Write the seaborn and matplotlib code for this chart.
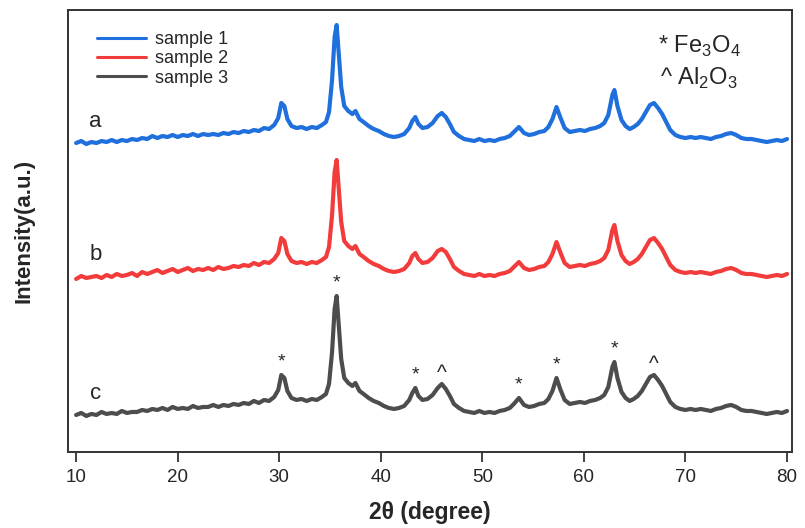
import numpy as np
import pandas as pd
import matplotlib
matplotlib.use("Agg")
import matplotlib.pyplot as plt
import seaborn as sns

# ── data (stacked intensities in a.u.) ───────────────────────────────────────
two_theta = [10.0, 10.5, 11.0, 11.5, 12.0, 12.5, 13.0, 13.5, 14.0, 14.5,
             15.0, 15.5, 16.0, 16.5, 17.0, 17.5, 18.0, 18.5, 19.0, 19.5,
             20.0, 20.5, 21.0, 21.5, 22.0, 22.5, 23.0, 23.5, 24.0, 24.5,
             25.0, 25.5, 26.0, 26.5, 27.0, 27.5, 28.0, 28.5, 29.0, 29.5,
             29.9, 30.2, 30.5, 30.8, 31.2, 31.7, 32.2, 32.7, 33.2, 33.7,
             34.2, 34.6, 34.9, 35.2, 35.45, 35.65, 35.85, 36.1, 36.4, 36.8,
             37.2, 37.5, 37.9, 38.3, 38.8, 39.3, 39.8, 40.3, 40.8, 41.3,
             41.8, 42.3, 42.8, 43.1, 43.4, 43.7, 44.1, 44.6, 45.1, 45.6,
             46.0, 46.4, 46.8, 47.2, 47.7, 48.2, 48.7, 49.2, 49.7, 50.2,
             50.7, 51.2, 51.7, 52.2, 52.7, 53.1, 53.6, 54.1, 54.6, 55.1,
             55.6, 56.1, 56.5, 56.9, 57.3, 57.7, 58.1, 58.6, 59.1, 59.6,
             60.1, 60.6, 61.1, 61.6, 62.0, 62.4, 62.8, 63.0, 63.3, 63.7,
             64.1, 64.5, 64.9, 65.3, 65.7, 66.1, 66.5, 66.9, 67.3, 67.7,
             68.1, 68.5, 69.0, 69.5,
             70.0, 70.5, 71.0, 71.5, 72.0, 72.5, 73.0, 73.5, 74.0, 74.5,
             75.0, 75.5, 76.0, 76.5, 77.0, 77.5, 78.0, 78.5, 79.0, 79.5, 80.0]

sample1 = [309, 311, 308, 310, 309, 311, 310, 312, 310, 312,
           311, 313, 312, 314, 313, 316, 314, 316, 315, 317,
           315, 317, 316, 318, 316, 318, 317, 318, 317, 319,
           318, 320, 319, 321, 320, 322, 321, 324, 323, 327,
           334, 349, 346, 333, 326, 324, 325, 323, 325, 324,
           327, 330, 340, 372, 415, 427, 400, 365, 346, 341,
           338, 341, 333, 330, 326, 323, 321, 318, 316, 315,
           316, 318, 324, 331, 335, 328, 324, 325, 329, 336,
           339, 335, 328, 320, 316, 313, 312, 311, 313, 311,
           312, 311, 313, 314, 316, 320, 325, 319, 317, 318,
           320, 321, 325, 333, 345, 334, 324, 320, 321, 322,
           321, 323, 324, 326, 329, 337, 357, 362, 346, 332,
           326, 323, 325, 328, 333, 340, 347, 349, 344, 338,
           330, 322, 317, 315,
           314, 315, 314, 315, 314, 313, 315, 316, 318, 319,
           317, 314, 313, 313, 312, 311, 310, 311, 312, 311, 313]

sample2 = [173, 176, 174, 175, 176, 174, 177, 175, 178, 176,
           177, 179, 176, 180, 178, 180, 182, 179, 181, 183,
           180, 182, 184, 181, 183, 182, 184, 182, 185, 183,
           184, 186, 185, 187, 186, 189, 187, 190, 189, 193,
           199, 214, 211, 198, 191, 189, 190, 188, 190, 189,
           192, 195, 205, 237, 280, 292, 265, 230, 211, 206,
           203, 206, 198, 195, 191, 188, 186, 183, 181, 180,
           181, 183, 189, 196, 199, 193, 189, 190, 194, 201,
           203, 200, 193, 185, 181, 178, 177, 176, 178, 176,
           177, 176, 178, 179, 181, 185, 190, 184, 182, 183,
           185, 186, 190, 198, 210, 199, 189, 185, 186, 187,
           186, 188, 189, 191, 194, 202, 222, 227, 211, 197,
           191, 188, 190, 193, 198, 205, 212, 214, 209, 203,
           195, 187, 182, 180,
           179, 180, 179, 180, 179, 178, 180, 181, 183, 184,
           182, 179, 178, 178, 177, 176, 175, 176, 177, 176, 178]

sample3 = [37, 39, 36, 38, 37, 40, 38, 39, 38, 41,
           39, 40, 40, 42, 41, 43, 42, 44, 42, 45,
           43, 44, 43, 46, 44, 45, 45, 47, 45, 47,
           46, 48, 47, 49, 48, 51, 49, 52, 51, 55,
           62, 77, 74, 61, 54, 52, 53, 51, 53, 52,
           55, 58, 68, 100, 143, 156, 128, 93, 74, 69,
           66, 69, 61, 58, 54, 51, 49, 46, 44, 43,
           44, 46, 52, 59, 64, 56, 52, 53, 57, 64,
           68, 63, 56, 48, 44, 41, 40, 39, 41, 39,
           40, 39, 41, 42, 44, 48, 54, 47, 45, 46,
           48, 49, 53, 61, 74, 62, 52, 48, 49, 50,
           49, 51, 52, 54, 57, 65, 85, 90, 74, 60,
           54, 51, 53, 56, 61, 68, 75, 77, 72, 66,
           58, 50, 45, 43,
           42, 43, 42, 43, 42, 41, 43, 44, 46, 47,
           45, 42, 41, 41, 40, 39, 38, 39, 40, 39, 41]

sample_names = ["sample 1", "sample 2", "sample 3"]
curve_letters = ["a", "b", "c"]
colors = ["#1f6fdc", "#f23c3c", "#4d4d4d"]

# phase markers on sample 3
peak_pos = [30.2, 35.65, 43.4, 46.0, 53.6, 57.3, 63.0, 66.9]
peak_sym = ["*", "*", "*", "^", "*", "*", "*", "^"]

rows = []
for name, vals in zip(sample_names, [sample1, sample2, sample3]):
    assert len(vals) == len(two_theta), name
    rows.append(pd.DataFrame({"two_theta": two_theta, "intensity": vals, "sample": name}))
df = pd.concat(rows, ignore_index=True)

# ── plot ─────────────────────────────────────────────────────────────────────
sns.set_style("ticks")
plt.rcParams["font.family"] = ["Liberation Sans", "DejaVu Sans"]
plt.rcParams["mathtext.fontset"] = "custom"
plt.rcParams["mathtext.rm"] = "Liberation Sans"

fig = plt.figure(figsize=(8.05, 5.28), dpi=100)
ax = fig.add_axes([0.0845, 0.144, 0.8995, 0.837])

sns.lineplot(data=df, x="two_theta", y="intensity", hue="sample",
             palette=dict(zip(sample_names, colors)), linewidth=3.0,
             estimator=None, sort=False, ax=ax)

ax.set_xlim(9.2, 80.5)
ax.set_ylim(0, 442)
ax.set_xticks(range(10, 81, 10))
ax.set_yticks([])
ax.tick_params(axis="x", labelsize=13.5, length=7, width=1.3, color="#333333", pad=5)
ax.set_xlabel("2θ (degree)", fontsize=16.5, fontweight="bold", labelpad=11)
ax.set_ylabel("Intensity(a.u.)", fontsize=16, fontweight="bold", labelpad=24)
for sp in ax.spines.values():
    sp.set_linewidth(1.4)
    sp.set_color("#333333")

# curve letters
for letter, vals in zip(curve_letters, [sample1, sample2, sample3]):
    ax.annotate(letter, xy=(11.9, vals[4]), xytext=(0, 8), textcoords="offset points",
                ha="center", va="bottom", fontsize=16)

# peak markers above sample 3
s3 = np.array(sample3)
tt = np.array(two_theta)
for pos, sym in zip(peak_pos, peak_sym):
    near = np.abs(tt - pos) < 0.35
    top = s3[near].max()
    ax.annotate(sym, xy=(pos, top), xytext=(0, 3 if sym == "*" else 1),
                textcoords="offset points", ha="center", va="bottom",
                fontsize=14 if sym == "*" else 15)

ax.text(0.815, 0.918, "* Fe$_3$O$_4$", transform=ax.transAxes, fontsize=17, va="center")
ax.text(0.818, 0.845, "^ Al$_2$O$_3$", transform=ax.transAxes, fontsize=17, va="center")

leg = ax.legend(loc="upper left", bbox_to_anchor=(0.04, 0.952), frameon=False,
                borderpad=0, borderaxespad=0,
                fontsize=13, handlelength=2.7, handletextpad=0.5, labelspacing=0.12)
for line in leg.get_lines():
    line.set_linewidth(2.2)

plt.savefig("out.png", dpi=100)
